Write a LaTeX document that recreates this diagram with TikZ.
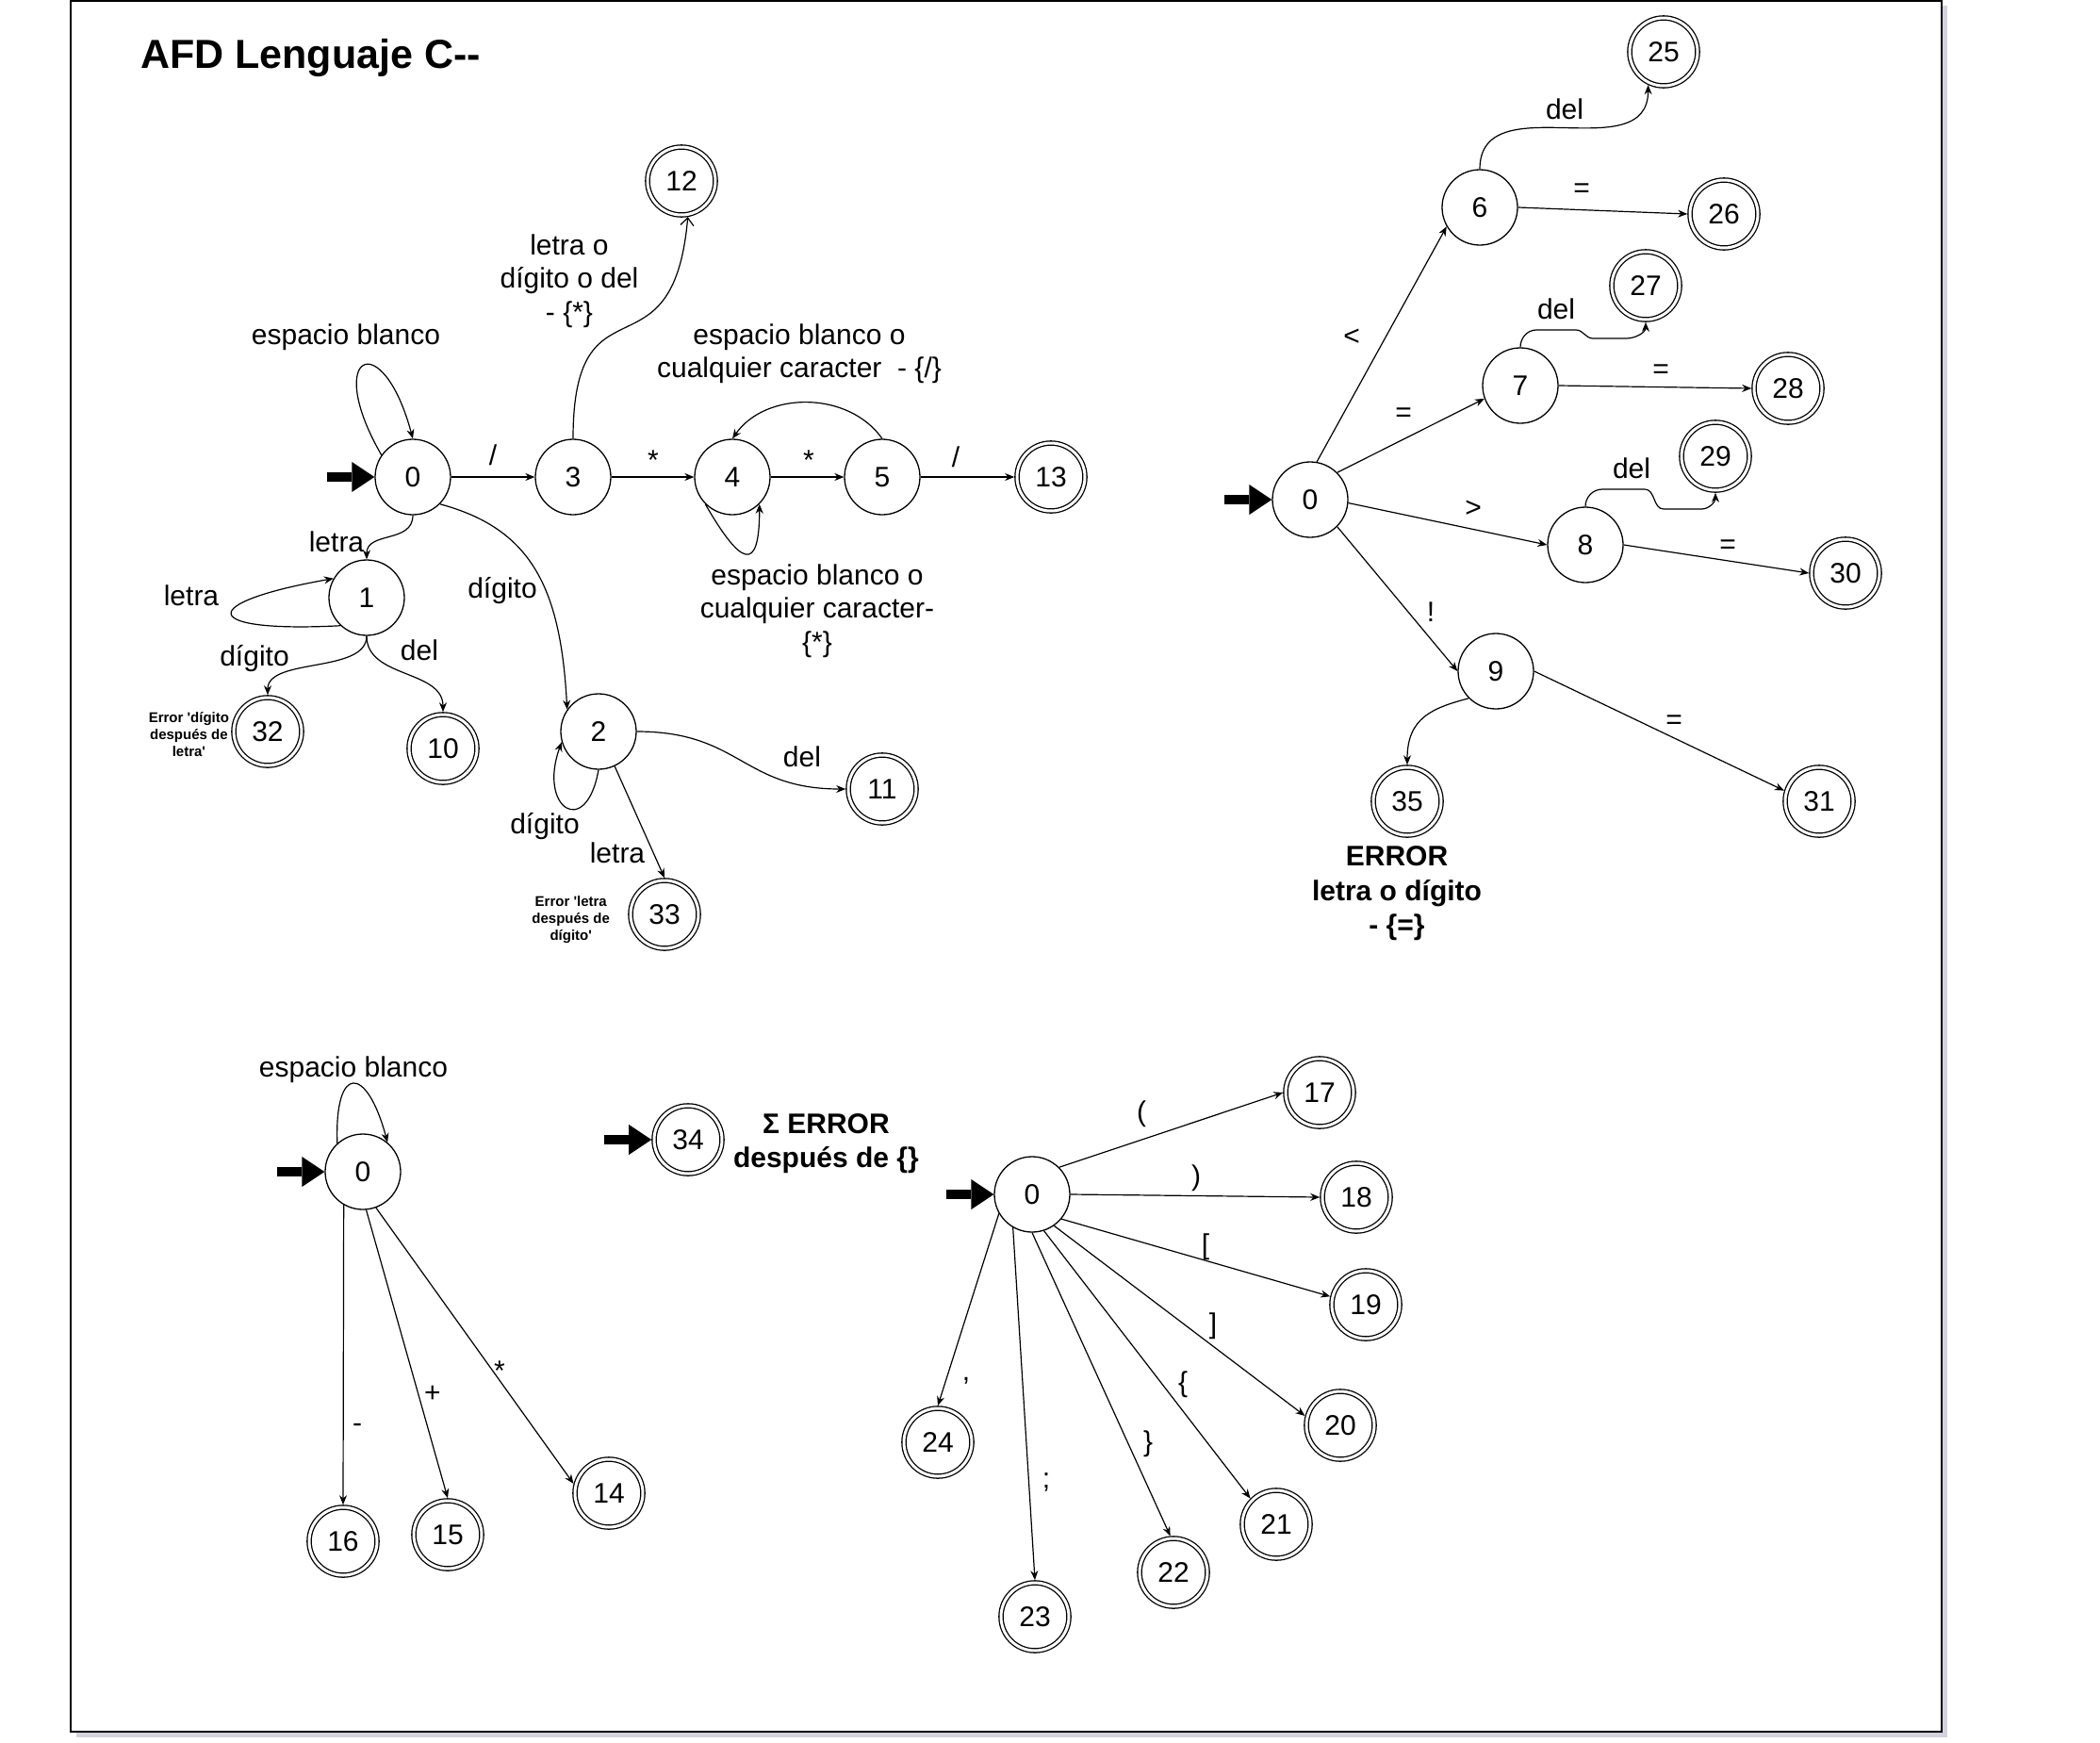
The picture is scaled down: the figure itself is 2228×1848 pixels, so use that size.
\documentclass[tikz,border=0pt]{standalone}
\usepackage{fontspec}
\setmainfont{Liberation Sans}[Ligatures=TeXOff]
\usetikzlibrary{arrows.meta,positioning}

\begin{document}
\begin{tikzpicture}[
    x=1pt, y=1pt,
    state/.style={circle, draw, line width=1.3pt, minimum size=80pt, inner sep=0pt, font=\fontsize{30}{36}\selectfont},
    final/.style={state, double, double distance=3pt, minimum size=72pt, outer sep=2.8pt},
    trans/.style={-{Stealth[length=10pt,width=8pt]}, line width=1.2pt},
    openarrow/.style={-{Straight Barb[length=8pt,width=14pt]}, line width=1.2pt},
    startarrow/.style={line width=10pt, -{Triangle[length=24pt,width=32pt,line width=0pt]}},
    lbl/.style={inner sep=1pt, align=center, font=\fontsize{30}{35.5}\selectfont},
    note/.style={inner sep=1pt, align=center, font=\fontsize{15}{18}\selectfont\bfseries},
    err/.style={inner sep=1pt, align=center, font=\fontsize{30}{36.5}\selectfont\bfseries}
]
\useasboundingbox (0,0) rectangle (2228,-1848);

% Sheet
\fill[blue!15!gray!30] (81,-6) rectangle (2066,-1843);
\draw[line width=2pt, fill=white] (75,-1) rectangle (2060,-1837);
\node[font=\fontsize{43}{50}\selectfont\bfseries, anchor=base west, inner sep=0pt] (title) at (149,-72) {AFD Lenguaje C--};

% Comments, identifiers and numbers (top left)
\node[state] (A0) at (438,-506) {0};
\node[state] (A3) at (608,-506) {3};
\node[state] (A4) at (777,-506) {4};
\node[state] (A5) at (936,-506) {5};
\node[final] (A13) at (1115,-506) {13};
\node[final] (A12) at (723,-192) {12};
\node[state] (A1) at (389,-634) {1};
\node[final] (A32) at (284,-776) {32};
\node[final] (A10) at (470,-794) {10};
\node[state] (A2) at (635,-776) {2};
\node[final] (A11) at (936,-837) {11};
\node[final] (A33) at (705,-970) {33};

\coordinate (sA) at ([xshift=-50pt]A0.west);
\draw[startarrow] (sA) -- (A0);
\draw[trans] (A0.145) to[out=120, in=105, distance=125pt] (A0.90);
\draw[trans] (A0) -- (A3);
\draw[trans] (A3) -- (A4);
\draw[trans] (A4) -- (A5);
\draw[trans] (A5) -- (A13);
\draw[openarrow] (A3.90) to[out=90, in=-95, distance=180pt] (A12.-80);
\draw[trans] (A5.90) to[out=125, in=55, distance=62pt] (A4.90);
\draw[trans] (A4.225) to[out=-60, in=-90, distance=75pt] (A4.-45);
\draw[trans] (A0.-90) to[out=-90, in=90, distance=30pt] (A1.90);
\draw[trans] (A1.227) to[out=183, in=190, distance=150pt] (A1.150);
\draw[trans] (A1.-90) to[out=-90, in=90, distance=40pt] (A32.90);
\draw[trans] (A1.-90) to[out=-90, in=90, distance=45pt] (A10.90);
\draw[trans] (A0.-45) to[out=-15, in=93, out distance=100pt, in distance=130pt] (A2.145);
\draw[trans] (A2.0) to[out=0, in=180, distance=110pt] (A11.180);
\draw[trans] (A2.-90) to[out=-100, in=250, distance=75pt] (A2.196);
\draw[trans] (A2.-65) -- (A33.90);

\node[lbl] (lA0) at (367,-358) {espacio blanco};
\node[lbl] (lA03) at (523,-483) {/};
\node[lbl] (lA34) at (693,-488) {*};
\node[lbl] (lA45) at (858,-488) {*};
\node[lbl] (lA513) at (1014,-485) {/};
\node[lbl] (lA312) at (604,-298) {letra o\\dígito o del\\- \{*\}};
\node[lbl] (lA54) at (848,-375) {espacio blanco o\\cualquier caracter\ \ - \{/\}};
\node[lbl] (lA44) at (867,-648) {espacio blanco o\\cualquier caracter-\\\{*\}};
\node[lbl] (lA01) at (357,-575) {letra};
\node[lbl] (lA11) at (203,-632) {letra};
\node[lbl] (lA132) at (270,-699) {dígito};
\node[lbl] (lA110) at (445,-690) {del};
\node[lbl] (lA02) at (533,-627) {dígito};
\node[lbl] (lA211) at (851,-803) {del};
\node[lbl] (lA22) at (578,-877) {dígito};
\node[lbl] (lA233) at (655,-905) {letra};
\node[note, left=1pt of A32, yshift=-3pt] (n32) {Error 'dígito\\después de\\letra'};
\node[note, left=18pt of A33, yshift=-6pt] (n33) {Error 'letra\\después de\\dígito'};

% Relational operators (top right)
\node[state] (B0) at (1390,-530) {0};
\node[state] (B6) at (1570,-220) {6};
\node[state] (B7) at (1613,-409) {7};
\node[state] (B8) at (1682,-578) {8};
\node[state] (B9) at (1587,-712) {9};
\node[final] (B25) at (1765,-55) {25};
\node[final] (B26) at (1829,-227) {26};
\node[final] (B27) at (1746,-303) {27};
\node[final] (B28) at (1897,-412) {28};
\node[final] (B29) at (1820,-484) {29};
\node[final] (B30) at (1958,-608) {30};
\node[final] (B31) at (1930,-850) {31};
\node[final] (B35) at (1493,-850) {35};

\coordinate (sB) at ([xshift=-50pt]B0.west);
\draw[startarrow] (sB) -- (B0);
\draw[trans] (B0.80) -- (B6.210);
\draw[trans] (B0.45) -- (B7.200);
\draw[trans] (B0.-5) -- (B8.180);
\draw[trans] (B0.-45) -- (B9.180);
\draw[trans] (B6.90) to[out=90, in=-90, distance=90pt] (B25.-115);
\draw[trans] (B6.0) -- (B26.180);
\draw[trans] (B7.90) to[out=90, in=180] (1630,-350) -- (1672,-350) to[out=0, in=180] (1690,-359) -- (1725,-359) to[out=0, in=-90] (B27.-90);
\draw[trans] (B7.0) -- (B28.180);
\draw[trans] (B8.90) to[out=90, in=180] (1700,-519) -- (1745,-519) to[out=0, in=180] (1765,-540) -- (1805,-540) to[out=0, in=-90] (B29.-90);
\draw[trans] (B8.0) -- (B30.180);
\draw[trans] (B9.0) -- (B31.163);
\draw[trans] (B9.225) to[out=195, in=90, out distance=40pt, in distance=50pt] (B35.90);

\node[lbl] (lB06) at (1434,-358) {<};
\node[lbl] (lB07) at (1489,-440) {=};
\node[lbl] (lB08) at (1563,-540) {>};
\node[lbl] (lB09) at (1518,-649) {!};
\node[lbl] (lB625) at (1660,-116) {del};
\node[lbl] (lB626) at (1678,-202) {=};
\node[lbl] (lB727) at (1651,-328) {del};
\node[lbl] (lB728) at (1762,-394) {=};
\node[lbl] (lB829) at (1731,-497) {del};
\node[lbl] (lB830) at (1833,-580) {=};
\node[lbl] (lB931) at (1776,-766) {=};
\node[err, below=8pt of B35, xshift=-11pt] (e35) {ERROR\\letra o dígito\\- \{=\}};

% Arithmetic operators (bottom left)
\node[state] (C0) at (385,-1243) {0};
\node[final] (C16) at (364,-1635) {16};
\node[final] (C15) at (475,-1628) {15};
\node[final] (C14) at (646,-1584) {14};
\node[final] (C34) at (730,-1209) {34};

\coordinate (sC) at ([xshift=-50pt]C0.west);
\draw[startarrow] (sC) -- (C0);
\draw[trans] (C0.132) to[out=92, in=105, distance=85pt] (C0.50);
\draw[trans] (C0.-120) -- (C16.90);
\draw[trans] (C0.-85) -- (C15.90);
\draw[trans] (C0.-70) -- (C14.165);
\coordinate (sE) at ([xshift=-50pt]C34.west);
\draw[startarrow] (sE) -- (C34);

\node[lbl] (lC0) at (375,-1135) {espacio blanco};
\node[lbl] (lC16) at (379,-1515) {-};
\node[lbl] (lC15) at (459,-1479) {+};
\node[lbl] (lC14) at (530,-1454) {*};
\node[err, right=8pt of C34, yshift=-4pt] (e34) {Σ ERROR\\después de \{\}};

% Delimiters (bottom right)
\node[state] (D0) at (1095,-1267) {0};
\node[final] (D17) at (1400,-1159) {17};
\node[final] (D18) at (1439,-1270) {18};
\node[final] (D19) at (1449,-1384) {19};
\node[final] (D20) at (1422,-1512) {20};
\node[final] (D21) at (1354,-1617) {21};
\node[final] (D22) at (1245,-1668) {22};
\node[final] (D23) at (1098,-1715) {23};
\node[final] (D24) at (995,-1530) {24};

\coordinate (sD) at ([xshift=-50pt]D0.west);
\draw[startarrow] (sD) -- (D0);
\draw[trans] (D0.45) -- (D17.180);
\draw[trans] (D0.0) -- (D18.180);
\draw[trans] (D0.-40) -- (D19.167);
\draw[trans] (D0.-55) -- (D20.165);
\draw[trans] (D0.-72) -- (D21.135);
\draw[trans] (D0.-90) -- (D22.95);
\draw[trans] (D0.-120) -- (D23.90);
\draw[trans] (D0.-150) -- (D24.90);

\node[lbl] (lD17) at (1211,-1182) {(};
\node[lbl] (lD18) at (1269,-1250) {)};
\node[lbl] (lD19) at (1279,-1323) {[};
\node[lbl] (lD20) at (1287,-1407) {]};
\node[lbl] (lD21) at (1255,-1469) {\{};
\node[lbl] (lD22) at (1218,-1532) {\}};
\node[lbl] (lD23) at (1110,-1572) {;};
\node[lbl] (lD24) at (1025,-1465) {,};
\end{tikzpicture}
\end{document}
